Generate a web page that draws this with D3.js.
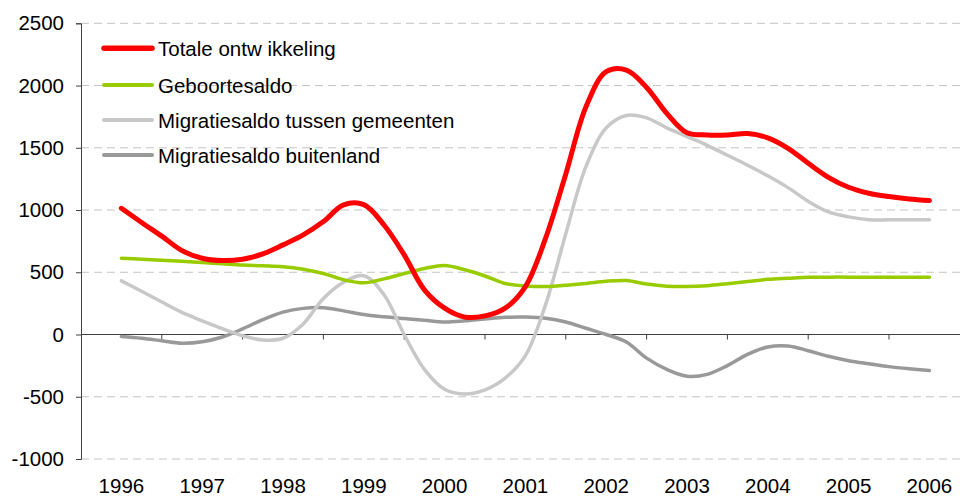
<!DOCTYPE html>
<html><head><meta charset="utf-8">
<script src="https://cdn.jsdelivr.net/npm/d3@7"></script>
<style>
html,body{margin:0;padding:0;background:#fff;}
text{font-family:"Liberation Sans",Arial,sans-serif;fill:#000;}
</style></head>
<body><svg id="chart" width="960" height="498"></svg>
<script>
const years = [1996,1997,1998,1999,2000,2001,2002,2003,2004,2005,2006];
const yTicks = [-1000,-500,0,500,1000,1500,2000,2500];
const quarters = [1996,1996.25,1996.5,1996.75,1997,1997.25,1997.5,1997.75,1998,1998.25,1998.5,1998.75,
  1999,1999.25,1999.5,1999.75,2000,2000.25,2000.5,2000.75,2001,2001.25,2001.5,2001.75,2002,2002.25,2002.5,2002.75,
  2003,2003.25,2003.5,2003.75,2004,2004.25,2004.5,2004.75,2005,2005.25,2005.5,2005.75,2006];
const seriesNames = ["Totale ontw ikkeling","Geboortesaldo","Migratiesaldo tussen gemeenten","Migratiesaldo buitenland"];
const totale = [1014,900,790,674,613,594,605,648,720,800,907,1041,1043,880,640,359,212,140,150,212,385,774,1290,1830,2111,2124,1985,1777,1621,1603,1603,1615,1580,1496,1376,1263,1183,1135,1108,1089,1076];
const geboorte = [613,605,597,588,578,568,558,552,545,525,490,440,415,447,490,530,555,520,470,410,390,385,395,410,428,433,405,388,385,392,408,425,443,452,460,461,461,461,461,461,461];
const gemeenten = [431,347,261,178,110,47,-10,-44,-30,85,290,420,472,320,0,-280,-440,-478,-445,-350,-170,240,810,1350,1660,1760,1740,1660,1590,1520,1440,1360,1275,1180,1070,985,945,922,921,921,921];
const buitenland = [-16,-30,-50,-70,-58,-20,45,120,180,210,215,190,160,142,128,115,100,110,125,138,140,130,100,50,0,-60,-190,-280,-335,-320,-250,-160,-100,-92,-130,-175,-210,-235,-258,-275,-289];
const colors = ["#ff0000","#99cc00","#c8c8c8","#999999"];
const widths = [5,3.5,3.5,3.5];
const allSeries = [totale, geboorte, gemeenten, buitenland];

const svg = d3.select("#chart");
const pLeft = 81, pRight = 969.8, pTop = 23.3, pBottom = 459;
const x = d3.scaleLinear().domain([1995.5, 2006.5]).range([pLeft, pRight]);
const y = d3.scaleLinear().domain([-1000, 2500]).range([pBottom, pTop]);

// gridlines
svg.append("g").selectAll("line").data(yTicks.filter(d => d !== 0)).join("line")
  .attr("x1", pLeft).attr("x2", 960).attr("y1", d => y(d)).attr("y2", d => y(d))
  .attr("stroke", "#c4c4c4").attr("stroke-width", 1).attr("stroke-dasharray", "8,5");

// y axis
const yAxis = svg.append("g").attr("transform", `translate(${pLeft},0)`)
  .call(d3.axisLeft(y).tickValues(yTicks).tickSize(5).tickPadding(12).tickFormat(d => String(d)));
yAxis.select(".domain").attr("stroke", "#404040");
yAxis.selectAll(".tick line").attr("stroke", "#404040");
yAxis.selectAll("text").attr("font-size", "20.5px").attr("font-family", "Liberation Sans, Arial, sans-serif").attr("fill", "#000");

// x axis at 0
const bounds = d3.range(1996.5, 2006.5, 1);
const xg = svg.append("g").attr("transform", `translate(0,${y(0)})`);
xg.append("line").attr("x1", pLeft).attr("x2", 960).attr("y1", 0).attr("y2", 0).attr("stroke", "#404040");
xg.selectAll("line.tk").data(bounds).join("line").attr("class","tk")
  .attr("x1", d => x(d)).attr("x2", d => x(d)).attr("y1", 0).attr("y2", 5).attr("stroke", "#404040");
svg.append("g").selectAll("text").data(years).join("text")
  .attr("x", d => x(d)).attr("y", 493).attr("text-anchor", "middle")
  .attr("font-size", "20.5px").text(d => d);

// lines
const line = d3.line().x((d, i) => x(quarters[i])).y(d => y(d)).curve(d3.curveCatmullRom.alpha(0.5));
const order = [3, 2, 1, 0];
svg.append("g").selectAll("path").data(order).join("path")
  .attr("d", k => line(allSeries[k]))
  .attr("fill", "none").attr("stroke", k => colors[k]).attr("stroke-width", k => widths[k])
  .attr("stroke-linecap", "round").attr("stroke-linejoin", "round");

// legend
const legY = [48.3, 85, 120, 155];
const lg = svg.append("g");
seriesNames.forEach((name, i) => {
  lg.append("line").attr("x1", 104).attr("x2", 152).attr("y1", legY[i]).attr("y2", legY[i])
    .attr("stroke", colors[i]).attr("stroke-width", i === 0 ? 5.5 : 4).attr("stroke-linecap", "round");
  lg.append("text").attr("x", 158).attr("y", legY[i] + 7.5).attr("font-size", "20.5px").text(name);
});
</script>
</body></html>
